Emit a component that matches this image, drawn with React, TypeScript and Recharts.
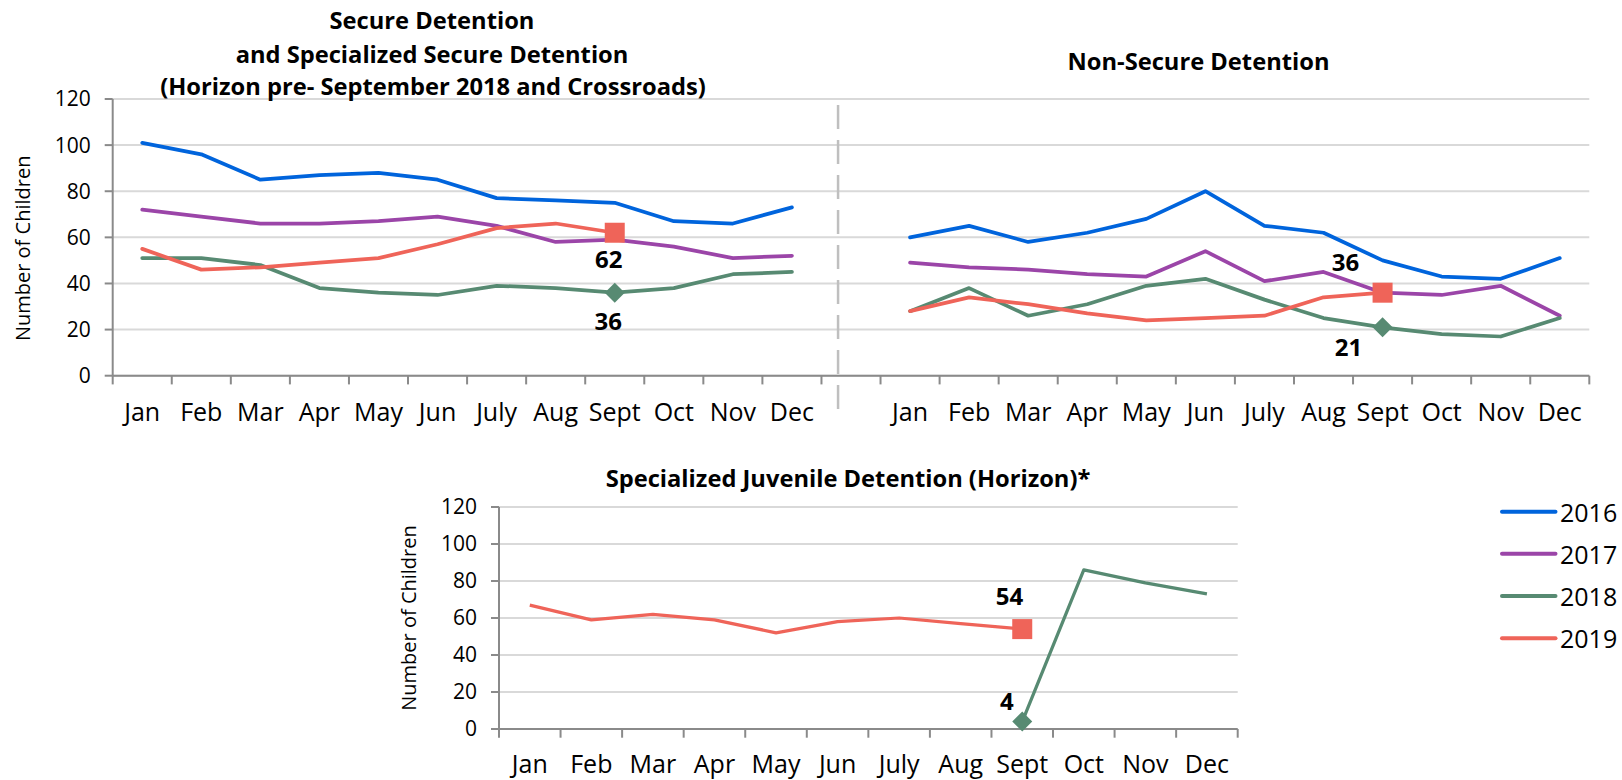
import React from 'react';
import { ComposedChart, Line, XAxis, YAxis, CartesianGrid } from 'recharts';

// ---- data ----
const months = ['Jan', 'Feb', 'Mar', 'Apr', 'May', 'Jun', 'July', 'Aug', 'Sept', 'Oct', 'Nov', 'Dec'];
const yTicks = [0, 20, 40, 60, 80, 100, 120];
const years = ['2016', '2017', '2018', '2019'];

// Secure Detention and Specialized Secure Detention
const secure2016 = [101, 96, 85, 87, 88, 85, 77, 76, 75, 67, 66, 73];
const secure2017 = [72, 69, 66, 66, 67, 69, 65, 58, 59, 56, 51, 52];
const secure2018 = [51, 51, 48, 38, 36, 35, 39, 38, 36, 38, 44, 45];
const secure2019 = [55, 46, 47, 49, 51, 57, 64, 66, 62];

// Non-Secure Detention
const nonSecure2016 = [60, 65, 58, 62, 68, 80, 65, 62, 50, 43, 42, 51];
const nonSecure2017 = [49, 47, 46, 44, 43, 54, 41, 45, 36, 35, 39, 26];
const nonSecure2018 = [28, 38, 26, 31, 39, 42, 33, 25, 21, 18, 17, 25];
const nonSecure2019 = [28, 34, 31, 27, 24, 25, 26, 34, 36];

// Specialized Juvenile Detention (Horizon)
const juvenile2018 = [null, null, null, null, null, null, null, null, 4, 86, 79, 73];
const juvenile2019 = [67, 59, 62, 59, 52, 58, 60, 57, 54];

const colors: Record<string, string> = {
  '2016': '#0064DC',
  '2017': '#9B45A8',
  '2018': '#578A72',
  '2019': '#EF6459',
};

const FONT = '"Open Sans", "Noto Sans", sans-serif';
const GRID = '#D9D9D9';
const AXIS = '#8A8A8A';

const val = (arr: (number | null)[], i: number) => (arr[i] == null ? null : arr[i]);

const topData = [
  ...months.map((m, i) => ({
    m,
    y2016: val(secure2016, i),
    y2017: val(secure2017, i),
    y2018: val(secure2018, i),
    y2019: val(secure2019, i),
  })),
  { m: '', y2016: null, y2017: null, y2018: null, y2019: null },
  ...months.map((m, i) => ({
    m,
    y2016: val(nonSecure2016, i),
    y2017: val(nonSecure2017, i),
    y2018: val(nonSecure2018, i),
    y2019: val(nonSecure2019, i),
  })),
];

const bottomData = months.map((m, i) => ({
  m,
  y2018: val(juvenile2018, i),
  y2019: val(juvenile2019, i),
}));

// ---- layout ----
const TOP = { w: 1622, h: 430, left: 112.7, right: 1589.3, top: 99, bottom: 375.7 };
const BOT = { x: 380, y: 430, w: 880, h: 350, left: 499, right: 1237.7, top: 507, bottom: 729 };

// Excel-style category ticks: marks between categories, label centred
function makeTick(count: number, band: number, plotHeight: number, labelDy: number, gapIndex = -1) {
  return (props: any) => {
    const { x, y, payload } = props;
    const index = props.index ?? payload?.index ?? 0;
    const left = x - band / 2;
    return (
      <g>
        <line x1={left} x2={left} y1={y} y2={y + 8.7} stroke={AXIS} strokeWidth={2} />
        {index === count - 1 && (
          <line x1={x + band / 2} x2={x + band / 2} y1={y} y2={y + 8.7} stroke={AXIS} strokeWidth={2} />
        )}
        {index === gapIndex && (
          <line
            x1={left + 16.6}
            x2={left + 16.6}
            y1={y - plotHeight + 6}
            y2={y + 36}
            stroke="#BFBFBF"
            strokeWidth={2.5}
            strokeDasharray="24 11"
          />
        )}
        <text x={x} y={y + labelDy} textAnchor="middle" fontSize={25} fontFamily={FONT} fill="#000">
          {payload.value}
        </text>
      </g>
    );
  };
}

function axisTitle(offsetX: number, offsetY: number) {
  return (props: any) => {
    const vb = props.viewBox || {};
    const cx = (vb.x ?? 0) + offsetX;
    const cy = (vb.y ?? 0) + (vb.height ?? 0) / 2 + offsetY;
    return (
      <text
        x={cx}
        y={cy}
        transform={`rotate(-90 ${cx} ${cy})`}
        textAnchor="middle"
        dominantBaseline="central"
        fontSize={20}
        fontFamily={FONT}
        fill="#000"
      >
        Number of Children
      </text>
    );
  };
}

type Note = Record<number, [number, number]>;

function makeDot(kind: 'square' | 'diamond', color: string, notes: Note) {
  return (p: any) => {
    const { cx, cy, index, value } = p;
    const note = notes[index];
    if (!note || cx == null || cy == null) return <g key={`dot-${index}`} />;
    const s = 10;
    const marker =
      kind === 'square' ? (
        <rect x={cx - s} y={cy - s} width={2 * s} height={2 * s} fill={color} />
      ) : (
        <polygon points={`${cx},${cy - s} ${cx + s},${cy} ${cx},${cy + s} ${cx - s},${cy}`} fill={color} />
      );
    return (
      <g key={`dot-${index}`}>
        {marker}
        <text
          x={cx + note[0]}
          y={cy + note[1]}
          textAnchor="middle"
          fontSize={24}
          fontWeight={700}
          fontFamily={FONT}
          fill="#000"
        >
          {value}
        </text>
      </g>
    );
  };
}

const topNotes: Record<string, Note> = {
  '2019': { 8: [-6, 35], 21: [-37, -22] },
  '2018': { 8: [-6.5, 37], 21: [-34, 28.5] },
};
const bottomNotes: Record<string, Note> = {
  '2019': { 8: [-12.7, -24] },
  '2018': { 8: [-15.4, -11.5] },
};

const yAxisProps = {
  domain: [0, 120] as [number, number],
  ticks: yTicks,
  interval: 0 as const,
  tickSize: 8,
  tickMargin: 14,
  axisLine: { stroke: AXIS, strokeWidth: 2 },
  tickLine: { stroke: AXIS, strokeWidth: 2 },
  tick: { fontSize: 21, fontFamily: FONT, fill: '#000' },
};

function TopChart() {
  const band = (TOP.right - TOP.left) / topData.length;
  const plotH = TOP.bottom - TOP.top;
  return (
    <ComposedChart
      width={TOP.w}
      height={TOP.h}
      data={topData}
      margin={{ top: TOP.top, right: TOP.w - TOP.right, bottom: 0, left: 0 }}
    >
      <CartesianGrid vertical={false} stroke={GRID} strokeWidth={2} />
      <XAxis
        dataKey="m"
        interval={0}
        padding={{ left: band / 2, right: band / 2 }}
        height={TOP.h - TOP.bottom}
        tickLine={false}
        tickSize={0}
        tickMargin={0}
        axisLine={{ stroke: AXIS, strokeWidth: 2 }}
        tick={makeTick(topData.length, band, plotH, 45, 12)}
      />
      <YAxis width={TOP.left} {...yAxisProps} label={{ content: axisTitle(23, 11) }} />
      {years.map((yr) => (
        <Line
          key={yr}
          type="linear"
          dataKey={`y${yr}`}
          stroke={colors[yr]}
          strokeWidth={3.75}
          strokeLinejoin="round"
          strokeLinecap="round"
          connectNulls={false}
          activeDot={false}
          dot={
            yr === '2019'
              ? makeDot('square', colors[yr], topNotes['2019'])
              : yr === '2018'
              ? makeDot('diamond', colors[yr], topNotes['2018'])
              : false
          }
          isAnimationActive={false}
        />
      ))}
    </ComposedChart>
  );
}

function BottomChart() {
  const band = (BOT.right - BOT.left) / bottomData.length;
  const plotH = BOT.bottom - BOT.top;
  return (
    <ComposedChart
      width={BOT.w}
      height={BOT.h}
      data={bottomData}
      margin={{ top: BOT.top - BOT.y, right: BOT.w - (BOT.right - BOT.x), bottom: 0, left: 0 }}
    >
      <CartesianGrid vertical={false} stroke={GRID} strokeWidth={2} />
      <XAxis
        dataKey="m"
        interval={0}
        padding={{ left: band / 2, right: band / 2 }}
        height={BOT.y + BOT.h - BOT.bottom}
        tickLine={false}
        tickSize={0}
        tickMargin={0}
        axisLine={{ stroke: AXIS, strokeWidth: 2 }}
        tick={makeTick(bottomData.length, band, plotH, 43.5)}
      />
      <YAxis width={BOT.left - BOT.x} {...yAxisProps} label={{ content: axisTitle(28.3, 0) }} />
      <Line
        type="linear"
        dataKey="y2019"
        stroke={colors['2019']}
        strokeWidth={3.25}
        strokeLinejoin="round"
        connectNulls={false}
        activeDot={false}
        dot={makeDot('square', colors['2019'], bottomNotes['2019'])}
        isAnimationActive={false}
      />
      <Line
        type="linear"
        dataKey="y2018"
        stroke={colors['2018']}
        strokeWidth={3.25}
        strokeLinejoin="round"
        connectNulls={false}
        activeDot={false}
        dot={makeDot('diamond', colors['2018'], bottomNotes['2018'])}
        isAnimationActive={false}
      />
    </ComposedChart>
  );
}

function Overlay() {
  const title = { fontSize: 23.7, fontWeight: 700, fontFamily: FONT, fill: '#000', textAnchor: 'middle' as const };
  const legendY = [511.7, 553.7, 596, 638.3];
  return (
    <svg width={1622} height={780} style={{ position: 'absolute', left: 0, top: 0, pointerEvents: 'none' }}>
      <text x={432} y={29.3} {...title}>Secure Detention</text>
      <text x={432} y={62.5} {...title}>and Specialized Secure Detention</text>
      <text x={433} y={95} {...title}>(Horizon pre- September 2018 and Crossroads)</text>
      <text x={1198.5} y={70} {...title}>Non-Secure Detention</text>
      <text x={848} y={486.5} {...title}>Specialized Juvenile Detention (Horizon)*</text>
      {years.map((yr, i) => (
        <g key={yr}>
          <line x1={1502} x2={1555.5} y1={legendY[i]} y2={legendY[i]} stroke={colors[yr]} strokeWidth={4} strokeLinecap="round" />
          <text x={1560} y={legendY[i]} dominantBaseline="central" fontSize={25} fontFamily={FONT} fill="#000">
            {yr}
          </text>
        </g>
      ))}
    </svg>
  );
}

export default function App() {
  return (
    <div style={{ position: 'absolute', left: 0, top: 0, width: 1622, height: 780, background: '#fff', fontFamily: FONT }}>
      <div style={{ position: 'absolute', left: 0, top: 0 }}>
        <TopChart />
      </div>
      <div style={{ position: 'absolute', left: BOT.x, top: BOT.y }}>
        <BottomChart />
      </div>
      <Overlay />
    </div>
  );
}
